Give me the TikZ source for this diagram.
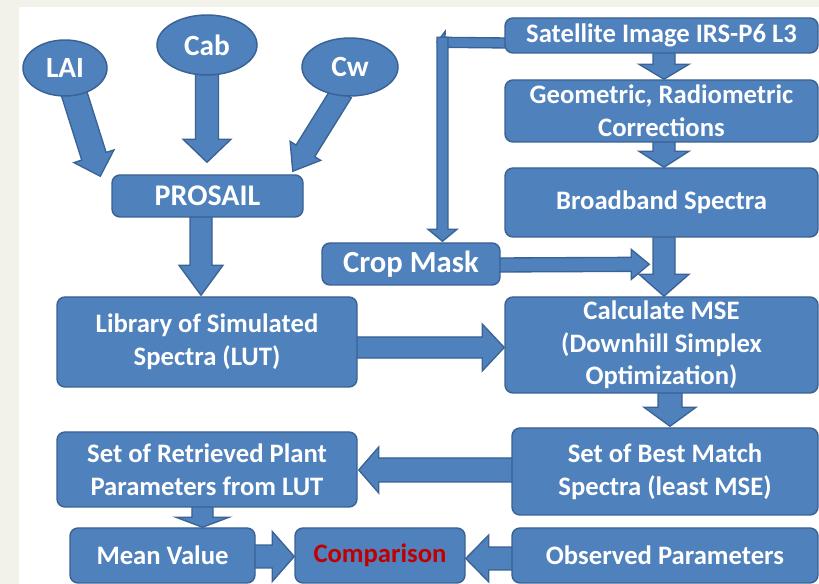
\documentclass[tikz,border=0pt]{standalone}
\usepackage{fontspec}
\setmainfont{Carlito}
\usetikzlibrary{calc,shapes.geometric}
\definecolor{boxfill}{HTML}{4F81BD}
\definecolor{boxline}{HTML}{3A6294}
\definecolor{bgside}{HTML}{F2F1EA}
\definecolor{redtxt}{HTML}{C00000}
\pgfdeclarelayer{bglayer}
\pgfdeclarelayer{arrlayer}
\pgfsetlayers{bglayer,arrlayer,main}
% #1 start, #2 tip, #3 half shaft, #4 half head, #5 head length
\newcommand\fatarrow[5]{%
  \coordinate (fahead) at ($(#2)!#5!(#1)$);
  \filldraw[fatarr] ($(#1)!#3!90:(#2)$) -- ($(fahead)!#3!-90:(#1)$) --
    ($(fahead)!#4!-90:(#1)$) -- (#2) -- ($(fahead)!#4!90:(#1)$) --
    ($(fahead)!#3!90:(#1)$) -- ($(#1)!#3!-90:(#2)$) -- cycle;
}
\begin{document}
\begin{tikzpicture}[x=0.75pt,y=-0.75pt,
  box/.style={draw=boxline, line width=1.1pt, fill=boxfill, rounded corners=6pt,
    text=white, font=\bfseries\fontsize{20}{24.5}\selectfont, align=center, inner sep=1pt},
  oval/.style={ellipse, draw=boxline, line width=1.1pt, fill=boxfill, text=white,
    font=\bfseries\fontsize{22}{26}\selectfont, inner sep=0pt},
  fatarr/.style={fill=boxfill, draw=boxline, line width=1pt, line join=miter}]
\useasboundingbox (0,0) rectangle (819,584);
\begin{pgfonlayer}{bglayer}
  \fill[white] (0,0) rectangle (819,584);
  \fill[bgside] (0,0) rectangle (819,7);
  \fill[bgside] (0,0) rectangle (19,584);
\end{pgfonlayer}

% ellipses
\node[oval, minimum width=63pt, minimum height=42pt] (lai) at (65,68) {LAI};
\node[oval, minimum width=75pt, minimum height=45pt] (cab) at (207,45) {Cab};
\node[oval, minimum width=72pt, minimum height=43.5pt] (cw) at (350,67) {Cw};

% boxes
\node[box, minimum width=143.25pt, minimum height=31.5pt, font=\bfseries\fontsize{22.5}{26}\selectfont] (pro) at (207.5,196) {PROSAIL};
\node[box, minimum width=225pt, minimum height=67.5pt] (lib) at (207,342) {Library of Simulated\\Spectra (LUT)};
\node[box, minimum width=225pt, minimum height=56.25pt] (ret) at (207,469.5) {Set of Retrieved Plant\\Parameters from LUT};
\node[box, minimum width=138.75pt, minimum height=41.25pt] (mean) at (162.5,555.5) {Mean Value};
\node[box, minimum width=127.5pt, minimum height=41.25pt, text=redtxt] (comp) at (380,555.5) {Comparison};
\node[box, minimum width=133.5pt, minimum height=31.5pt, font=\bfseries\fontsize{23}{26}\selectfont] (crop) at (411,264) {Crop Mask};

\node[box, minimum width=234.75pt, minimum height=26.25pt] (sat) at (661.5,35.5) {Satellite Image IRS-P6 L3};
\node[box, minimum width=234.75pt, minimum height=46.5pt] (geo) at (661.5,111) {Geometric, Radiometric\\Corrections};
\node[box, minimum width=234.75pt, minimum height=51.75pt] (broad) at (661.5,202.5) {Broadband Spectra};
\node[box, minimum width=234.75pt, minimum height=72pt] (calc) at (661.5,345) {Calculate MSE\\(Downhill Simplex\\Optimization)};
\node[box, minimum width=229.5pt, minimum height=65.25pt] (best) at (665,471.5) {Set of Best Match\\Spectra (least MSE)};
\node[box, minimum width=229.5pt, minimum height=41.25pt] (obs) at (665,555.5) {Observed Parameters};

% connector end points
\coordinate (laiS) at ($(lai.center)+(8,22)$);
\coordinate (laiE) at ($(pro.north west)+(-11,2)$);
\coordinate (cabS) at ($(cab.center)+(0,25)$);
\coordinate (cabE) at ($(pro.north)+(-0.5,-12)$);
\coordinate (cwS) at ($(cw.center)+(-8,25)$);
\coordinate (cwE) at ($(pro.north east)+(-11,-3)$);
\coordinate (proS) at ($(pro.south)+(-6.5,-5)$);
\coordinate (proE) at ($(lib.north)+(-6,-1)$);
\coordinate (satS) at ($(sat.south)+(2.5,-3)$);
\coordinate (satE) at ($(geo.north)+(2.5,0)$);
\coordinate (geoS) at ($(geo.south)+(2.5,-3)$);
\coordinate (geoE) at ($(broad.north)+(2.5,0)$);
\coordinate (brS) at ($(broad.south)+(2.5,-3)$);
\coordinate (brE) at ($(calc.north)+(2.5,0)$);
\coordinate (crS) at ($(crop.east)+(-3,1)$);
\coordinate (crE) at ($(calc.north west)+(145,-32)$);
\coordinate (libS) at ($(lib.east)+(-3,5.5)$);
\coordinate (libE) at ($(calc.west)+(0,2.5)$);
\coordinate (caS) at ($(calc.south)+(8.5,-3)$);
\coordinate (caE) at ($(best.north)+(5,-1)$);
\coordinate (beS) at ($(best.west)+(3,-1.5)$);
\coordinate (beE) at ($(ret.east)+(1,0.5)$);
\coordinate (reS) at ($(ret.south)+(-4.5,-3)$);
\coordinate (reE) at ($(mean.north)+(40,0)$);
\coordinate (meS) at ($(mean.east)+(-3,1)$);
\coordinate (meE) at ($(comp.west)+(0,1)$);
\coordinate (obS) at ($(obs.west)+(3,3)$);
\coordinate (obE) at ($(comp.east)+(0,3)$);
\coordinate (bend) at ($(crop.north)+(31.5,-200)$);
\coordinate (sxS) at ($(sat.west)+(3,7.5)$);
\coordinate (sxE) at ($(bend)+(-5.5,0)$);
\coordinate (syS) at ($(bend)+(0,-5)$);
\coordinate (syE) at ($(crop.north)+(31.5,-1)$);

\begin{pgfonlayer}{arrlayer}
  \fatarrow{laiS}{laiE}{9.6pt}{15.75pt}{15.75pt}
  \fatarrow{cabS}{cabE}{8.6pt}{18pt}{17.25pt}
  \fatarrow{cwS}{cwE}{8.25pt}{13.5pt}{18pt}
  \fatarrow{proS}{proE}{8.25pt}{16.5pt}{22.5pt}
  \fatarrow{satS}{satE}{8.25pt}{18.75pt}{11.25pt}
  \fatarrow{geoS}{geoE}{8.25pt}{18.75pt}{12pt}
  \fatarrow{brS}{brE}{8.25pt}{18.75pt}{16.5pt}
  \fatarrow{crS}{crE}{5.25pt}{11.25pt}{13.5pt}
  \fatarrow{libS}{libE}{7.9pt}{17.6pt}{16.5pt}
  \fatarrow{caS}{caE}{9pt}{19.5pt}{14.25pt}
  \fatarrow{beS}{beE}{9pt}{17.25pt}{15pt}
  \fatarrow{reS}{reE}{7.9pt}{19.9pt}{7.5pt}
  \fatarrow{meS}{meE}{8.6pt}{18.75pt}{16.5pt}
  \fatarrow{obS}{obE}{8.6pt}{17.6pt}{17.25pt}
  \fatarrow{sxS}{sxE}{3.75pt}{8.25pt}{6pt}
  \fatarrow{syS}{syE}{4.1pt}{10.9pt}{9pt}
\end{pgfonlayer}
\end{tikzpicture}
\end{document}
